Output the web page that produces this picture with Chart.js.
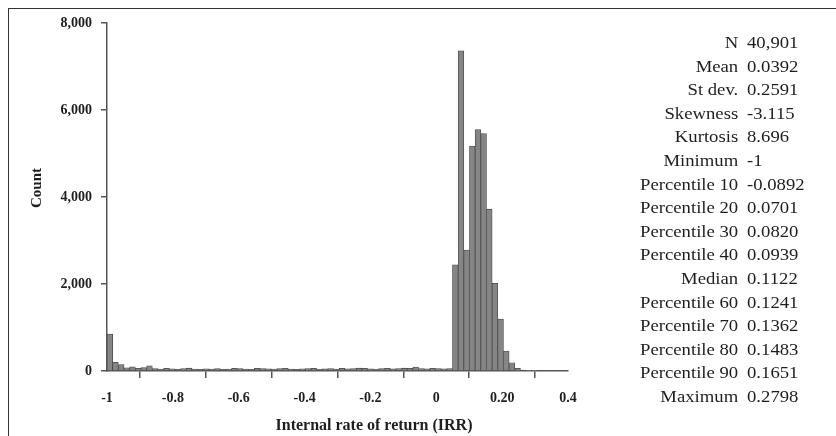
<!DOCTYPE html>
<html>
<head>
<meta charset="utf-8">
<script src="https://cdn.jsdelivr.net/npm/chart.js@4/dist/chart.umd.min.js"></script>
<style>
  html, body { margin: 0; padding: 0; background: #fff; overflow: hidden; }
  #wrap { position: relative; width: 836px; height: 436px; }
  #frame { position: absolute; left: 8px; top: 8px; width: 900px; height: 500px; border: 1.5px solid #333; }
  canvas { position: absolute; left: 0; top: 0; }
  .col { position: absolute; top: 31px; font-family: "Liberation Serif", "DejaVu Serif", serif; font-size: 17px; line-height: 23.6px; color: #1e1e1e; white-space: nowrap; }
  #labels { right: 98px; text-align: right; transform: scaleX(1.1); transform-origin: right top; }
  #values { left: 747px; text-align: left; transform: scaleX(1.1); transform-origin: left top; }
</style>
</head>
<body>
<div id="wrap">
  <div id="frame"></div>
  <canvas id="hist" width="836" height="436"></canvas>
  <div id="labels" class="col"></div>
  <div id="values" class="col"></div>
</div>
<script>
// histogram bins start at -1, fixed width
const binStart = -1;
const binWidth = 0.0172;

// counts per bin (left tail, then the peak)
const tailCounts = [850, 200, 150, 75, 95, 60, 80, 120, 55, 45,
    60, 50, 40, 55, 65, 45, 40, 50, 45, 55,
    40, 45, 60, 55, 45, 40, 60, 55, 50, 45,
    55, 60, 45, 40, 50, 55, 60, 45, 50, 55,
    45, 60, 50, 55, 65, 60, 50, 45, 55, 60,
    50, 55, 65, 60, 90, 55, 50, 60, 55, 50, 55];
const peakCounts = [2440, 7360, 2780, 5170, 5550, 5460, 3720, 2015, 1195, 460, 190, 62, 20, 10, 5];

const xTickValues = [-1, -0.8, -0.6, -0.4, -0.2, 0, 0.2, 0.4];
const xTickLabels = ['-1', '-0.8', '-0.6', '-0.4', '-0.2', '0', '0.20', '0.4'];
const yTickValues = [0, 2000, 4000, 6000, 8000];
const yTickLabels = ['0', '2,000', '4,000', '6,000', '8,000'];

const statNames = ['N', 'Mean', 'St dev.', 'Skewness', 'Kurtosis', 'Minimum',
    'Percentile 10', 'Percentile 20', 'Percentile 30', 'Percentile 40', 'Median',
    'Percentile 60', 'Percentile 70', 'Percentile 80', 'Percentile 90', 'Maximum'];
const statValues = ['40,901', '0.0392', '0.2591', '-3.115', '8.696', '-1',
    '-0.0892', '0.0701', '0.0820', '0.0939', '0.1122',
    '0.1241', '0.1362', '0.1483', '0.1651', '0.2798'];

const xTitle = 'Internal rate of return (IRR)';
const yTitle = 'Count';

document.getElementById('labels').innerHTML = statNames.map(s => '<div>' + s + '</div>').join('');
document.getElementById('values').innerHTML = statValues.map(s => '<div>' + s + '</div>').join('');

const counts = tailCounts.concat(peakCounts);
const points = counts.map((c, i) => ({ x: binStart + (i + 0.5) * binWidth, y: c }));

const serif = '"Liberation Serif", "DejaVu Serif", serif';
const axisColor = '#555';

const titlesPlugin = {
    id: 'axisTitles',
    afterDraw(chart) {
        const ctx = chart.ctx;
        ctx.save();
        ctx.fillStyle = '#1e1e1e';
        ctx.textAlign = 'center';
        ctx.textBaseline = 'middle';
        ctx.font = 'bold 16px ' + serif;
        ctx.fillText(xTitle, 374, 426);
        ctx.translate(37, 188);
        ctx.rotate(-Math.PI / 2);
        ctx.font = 'bold 15px ' + serif;
        ctx.fillText(yTitle, 0, 0);
        ctx.restore();
    }
};

new Chart(document.getElementById('hist').getContext('2d'), {
    type: 'bar',
    data: {
        datasets: [{
            data: points,
            backgroundColor: '#858585',
            borderColor: '#4a4a4a',
            borderWidth: 0.8,
            barPercentage: 1,
            categoryPercentage: 1
        }]
    },
    options: {
        responsive: false,
        animation: false,
        events: [],
        layout: { padding: { left: 0, top: 23, right: 268, bottom: 0 } },
        plugins: { legend: { display: false }, tooltip: { enabled: false } },
        scales: {
            x: {
                type: 'linear',
                offset: false,
                min: -1,
                max: 0.4,
                afterBuildTicks: s => { s.ticks = xTickValues.map(v => ({ value: v })); },
                afterFit: s => { s.height = 65; },
                grid: { drawOnChartArea: false, drawTicks: true, tickLength: 7, color: axisColor, lineWidth: 1.5 },
                border: { display: true, color: axisColor, width: 1.5 },
                ticks: {
                    padding: 12,
                    maxRotation: 0,
                    autoSkip: false,
                    color: '#1e1e1e',
                    font: { family: serif, size: 14, weight: 'bold' },
                    callback: (v, i) => xTickLabels[i]
                }
            },
            y: {
                min: 0,
                max: 8000,
                afterBuildTicks: s => { s.ticks = yTickValues.map(v => ({ value: v })); },
                afterFit: s => { s.width = 107; },
                grid: { drawOnChartArea: false, drawTicks: true, tickLength: 6, color: axisColor, lineWidth: 1.5 },
                border: { display: true, color: axisColor, width: 1.5 },
                ticks: {
                    padding: 9,
                    color: '#1e1e1e',
                    font: { family: serif, size: 14, weight: 'bold' },
                    callback: (v, i) => yTickLabels[i]
                }
            }
        }
    },
    plugins: [titlesPlugin]
});
</script>
</body>
</html>
